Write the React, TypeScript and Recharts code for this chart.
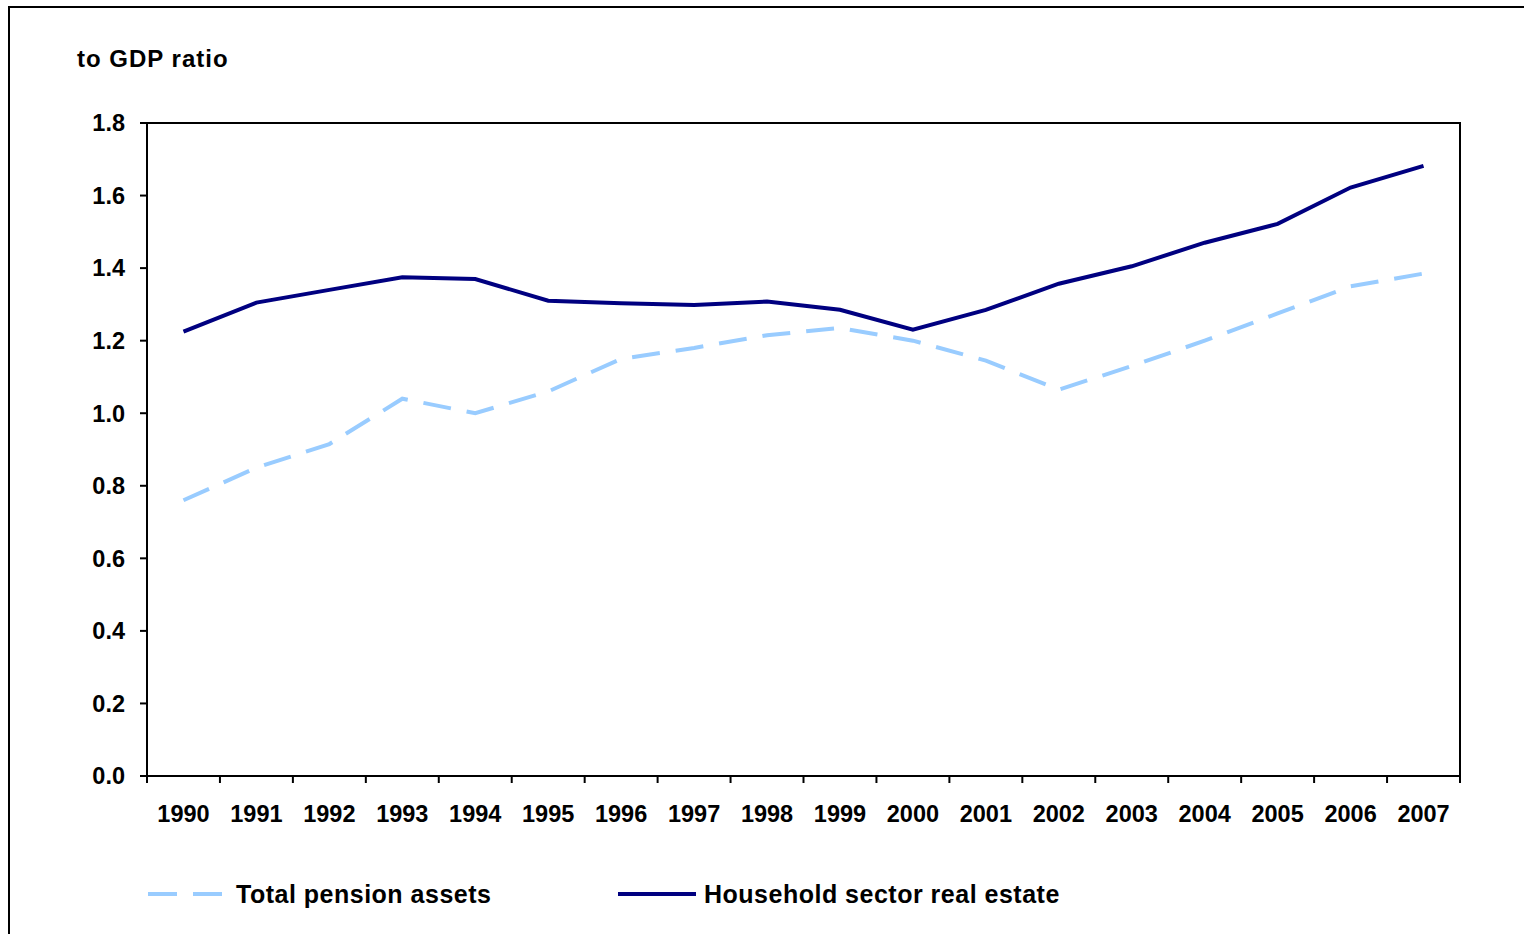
import React from 'react';
import { LineChart, Line, XAxis, YAxis, Legend, ReferenceArea } from 'recharts';

const years = ['1990','1991','1992','1993','1994','1995','1996','1997','1998','1999','2000','2001','2002','2003','2004','2005','2006','2007'];
const pensionAssets = [0.76, 0.85, 0.915, 1.04, 1.0, 1.06, 1.15, 1.18, 1.215, 1.235, 1.2, 1.145, 1.065, 1.13, 1.2, 1.275, 1.35, 1.385];
const realEstate = [1.225, 1.305, 1.34, 1.375, 1.37, 1.31, 1.303, 1.298, 1.308, 1.285, 1.23, 1.285, 1.357, 1.405, 1.47, 1.522, 1.622, 1.682];
const yTicks = [0, 0.2, 0.4, 0.6, 0.8, 1.0, 1.2, 1.4, 1.6, 1.8];
const seriesNames = ['Total pension assets', 'Household sector real estate'];
const yLabel = 'to GDP ratio';

const data = years.map((y, i) => ({ x: i + 0.5, year: y, pension: pensionAssets[i], realEstate: realEstate[i] }));
const xTicks: number[] = [];
for (let i = 0; i <= years.length; i++) {
  xTicks.push(i);
  if (i < years.length) xTicks.push(i + 0.5);
}

const FONT = '"Liberation Sans", Arial, sans-serif';
const PENSION_COLOR = '#99CCFF';
const ESTATE_COLOR = '#000080';

const XTick = (props: any) => {
  const { x, y, payload } = props;
  const v = payload.value as number;
  if (Number.isInteger(v)) {
    return <line x1={x} y1={y} x2={x} y2={y + 7} stroke="#000" strokeWidth={2} />;
  }
  return (
    <text x={x} y={y + 38} textAnchor="middle" dominantBaseline="central" fontFamily={FONT} fontWeight="bold" fontSize={23.5} fill="#000">
      {years[Math.floor(v)]}
    </text>
  );
};

const LegendContent = () => (
  <div style={{ position: 'relative', width: 1508, height: 40, fontFamily: FONT, fontWeight: 'bold', fontSize: 25, letterSpacing: 0.5 }}>
    <svg style={{ position: 'absolute', left: 140, top: 0 }} width={74} height={40}>
      <line x1={0} y1={20} x2={74} y2={20} stroke={PENSION_COLOR} strokeWidth={4} strokeDasharray="29 16" />
    </svg>
    <span style={{ position: 'absolute', left: 228, top: 0, lineHeight: '40px', whiteSpace: 'nowrap' }}>{seriesNames[0]}</span>
    <svg style={{ position: 'absolute', left: 610, top: 0 }} width={78} height={40}>
      <line x1={0} y1={20} x2={78} y2={20} stroke={ESTATE_COLOR} strokeWidth={4} />
    </svg>
    <span style={{ position: 'absolute', left: 696, top: 0, lineHeight: '40px', whiteSpace: 'nowrap' }}>{seriesNames[1]}</span>
  </div>
);

export default function App() {
  return (
    <div style={{ position: 'relative', width: 1508, height: 918 }}>
      <LineChart width={1508} height={918} data={data} margin={{ top: 115, right: 56, bottom: 12, left: 79 }}>
        <XAxis
          dataKey="x"
          type="number"
          domain={[0, years.length]}
          ticks={xTicks}
          interval={0}
          tick={<XTick />}
          tickLine={false}
          tickSize={0}
          tickMargin={0}
          height={98}
          axisLine={{ stroke: '#000', strokeWidth: 2 }}
          allowDecimals
        />
        <YAxis
          type="number"
          domain={[0, 1.8]}
          ticks={yTicks}
          interval={0}
          width={60}
          tickFormatter={(v: number) => v.toFixed(1)}
          tick={{ fontFamily: FONT, fontWeight: 'bold', fontSize: 23.5, fill: '#000' }}
          tickSize={7}
          tickMargin={15}
          tickLine={{ stroke: '#000', strokeWidth: 2 }}
          axisLine={{ stroke: '#000', strokeWidth: 2 }}
          label={{
            content: () => (
              <text x={69} y={59} fontFamily={FONT} fontWeight="bold" fontSize={24} letterSpacing={1} fill="#000">
                {yLabel}
              </text>
            ),
          }}
        />
        <ReferenceArea x1={0} x2={years.length} y1={0} y2={1.8} fill="none" fillOpacity={0} stroke="#000" strokeWidth={2} strokeOpacity={1} ifOverflow="visible" />
        <Legend
          verticalAlign="bottom"
          height={40}
          content={() => <LegendContent />}
          wrapperStyle={{ left: 0, bottom: 12, width: 1508, height: 40 }}
        />
        <Line
          type="linear"
          dataKey="pension"
          name={seriesNames[0]}
          stroke={PENSION_COLOR}
          strokeWidth={4}
          strokeDasharray="28 16"
          dot={false}
          activeDot={false}
          isAnimationActive={false}
        />
        <Line
          type="linear"
          dataKey="realEstate"
          name={seriesNames[1]}
          stroke={ESTATE_COLOR}
          strokeWidth={4}
          dot={false}
          activeDot={false}
          isAnimationActive={false}
        />
      </LineChart>
      <div style={{ position: 'fixed', left: 8, top: 6, width: 1600, height: 1000, borderTop: '2px solid #000', borderLeft: '2px solid #000', boxSizing: 'border-box', pointerEvents: 'none', zIndex: 10 }} />
    </div>
  );
}
